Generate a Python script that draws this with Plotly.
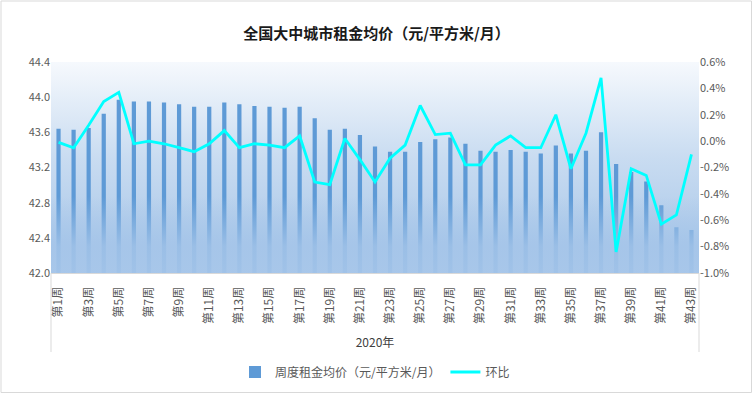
import base64
import plotly.graph_objects as go

# ---------------- data ----------------
WEEK_LABELS = [f"第{i}周" for i in range(1, 44)]
PRICE = [43.64, 43.63, 43.65, 43.81, 43.97, 43.95, 43.95, 43.94, 43.92, 43.89,
         43.89, 43.94, 43.92, 43.90, 43.89, 43.88, 43.89, 43.76, 43.63, 43.64,
         43.57, 43.44, 43.38, 43.38, 43.49, 43.52, 43.54, 43.47, 43.39, 43.38,
         43.40, 43.38, 43.36, 43.45, 43.36, 43.39, 43.60, 43.24, 43.15, 43.04,
         42.77, 42.52, 42.49]
MOM = [-0.01, -0.05, 0.12, 0.30, 0.37, -0.02, 0.00, -0.02, -0.05, -0.08,
       -0.02, 0.08, -0.05, -0.02, -0.03, -0.05, 0.04, -0.31, -0.33, 0.02,
       -0.14, -0.31, -0.13, -0.03, 0.27, 0.05, 0.06, -0.18, -0.18, -0.03,
       0.04, -0.05, -0.05, 0.20, -0.21, 0.06, 0.48, -0.84, -0.21, -0.26,
       -0.63, -0.56, -0.10]
LEFT_TICKS = [42.0, 42.4, 42.8, 43.2, 43.6, 44.0, 44.4]
RIGHT_TICKS = [-1.0, -0.8, -0.6, -0.4, -0.2, 0.0, 0.2, 0.4, 0.6]
YEAR_LABEL = "2020年"
TITLE = "全国大中城市租金均价（元/平方米/月）"
BAR_NAME = "周度租金均价（元/平方米/月）"
LINE_NAME = "环比"

WEEKS = list(range(1, len(WEEK_LABELS) + 1))

# ---------------- layout constants ----------------
W, H = 753, 394
ML, MR, MT, MB = 51, 54, 62, 121
PW, PH = W - ML - MR, H - MT - MB
X_MIN, X_MAX = 0.5, len(WEEKS) + 0.5
Y2_MIN, Y2_MAX = RIGHT_TICKS[0], RIGHT_TICKS[-1]
FADE_TOP = -0.42

FONT = "Noto Sans CJK SC"
GREY = "#595959"

svg = ('<svg xmlns="http://www.w3.org/2000/svg" width="100" height="100" preserveAspectRatio="none">'
       '<defs><linearGradient id="g" x1="0" y1="0" x2="0" y2="1">'
       '<stop offset="0" stop-color="#f6f9fd"/>'
       '<stop offset="0.45" stop-color="#c9dcf1"/>'
       '<stop offset="1" stop-color="#a3c3e7"/>'
       '</linearGradient></defs>'
       '<rect width="100" height="100" fill="url(#g)"/></svg>')
bg_src = "data:image/svg+xml;base64," + base64.b64encode(svg.encode()).decode()

fig = go.Figure()

fig.add_trace(go.Bar(
    x=WEEKS, y=PRICE, name=BAR_NAME, width=0.28,
    marker=dict(color="#5e9ad6", line=dict(width=0)),
    yaxis="y",
))

# bottom fade of bars (decorative), drawn below the line
fig.add_trace(go.Scatter(
    x=[X_MIN, X_MAX, X_MAX, X_MIN, X_MIN],
    y=[Y2_MIN, Y2_MIN, FADE_TOP, FADE_TOP, Y2_MIN],
    mode="none", fill="toself", showlegend=False, hoverinfo="skip",
    fillgradient=dict(type="vertical",
                      colorscale=[[0, "rgba(168,199,234,0.9)"],
                                  [0.35, "rgba(165,197,233,0.85)"],
                                  [1, "rgba(165,197,233,0)"]],
                      start=Y2_MIN, stop=FADE_TOP),
    yaxis="y2",
))

fig.add_trace(go.Scatter(
    x=WEEKS, y=MOM, name=LINE_NAME, mode="lines",
    line=dict(color="#00ffff", width=2.8),
    yaxis="y2",
))

fig.update_layout(
    width=W, height=H,
    margin=dict(l=ML, r=MR, t=MT, b=MB, autoexpand=False),
    paper_bgcolor="white",
    plot_bgcolor="rgba(0,0,0,0)",
    font=dict(family=FONT, color=GREY, size=11),
    title=dict(text=f"<b>{TITLE}</b>", x=0.5, xanchor="center",
               y=1 - 34 / H, yanchor="middle",
               font=dict(family=FONT, size=15, color="#1a1a1a")),
    showlegend=True,
    legend=dict(orientation="h", x=0.5, xanchor="center",
                y=(0 - (372 - (MT + PH))) / PH, yanchor="middle",
                font=dict(family=FONT, size=12, color=GREY),
                itemwidth=30, tracegroupgap=0),
    xaxis=dict(range=[X_MIN, X_MAX], tickmode="array", automargin=False,
               tickvals=WEEKS[::2], ticktext=WEEK_LABELS[::2],
               tickangle=-90, ticks="", showgrid=False, zeroline=False,
               showline=True, linecolor="#d9d9d9", linewidth=1,
               tickfont=dict(size=12, color=GREY), ticklabelstandoff=8,
               title=dict(text=YEAR_LABEL, standoff=15,
                          font=dict(size=12, color="#404040"))),
    yaxis=dict(range=[LEFT_TICKS[0], LEFT_TICKS[-1]], tickmode="array",
               automargin=False,
               tickvals=LEFT_TICKS, ticktext=[f"{v:.1f}" for v in LEFT_TICKS],
               showgrid=False, zeroline=False, showline=False, ticks="",
               tickfont=dict(size=11, color=GREY)),
    yaxis2=dict(range=[Y2_MIN, Y2_MAX], overlaying="y", side="right",
                automargin=False,
                tickmode="array", tickvals=RIGHT_TICKS,
                ticktext=[f"{v:.1f}%" for v in RIGHT_TICKS],
                showgrid=False, zeroline=False, showline=False, ticks="",
                tickfont=dict(size=11, color=GREY)),
    images=[dict(source=bg_src, xref="paper", yref="paper", x=0, y=1,
                 sizex=1, sizey=1, sizing="stretch", xanchor="left",
                 yanchor="top", layer="below")],
)

# group dividers of the category axis and chart border
div_bottom = -(352 - (MT + PH)) / PH
for xp in (0, 1):
    fig.add_shape(type="line", xref="paper", yref="paper", x0=xp, x1=xp,
                  y0=0, y1=div_bottom, line=dict(color="#d9d9d9", width=1))
fig.add_shape(type="rect", xref="paper", yref="paper",
              x0=-(ML - 1) / PW, x1=1 + (MR - 1.5) / PW,
              y0=-(MB - 1.5) / PH, y1=1 + (MT - 1) / PH,
              line=dict(color="#d9d9d9", width=1), fillcolor="rgba(0,0,0,0)")

fig.write_html("out.html", config={"displayModeBar": False},
               post_script="document.body.style.margin='0';document.body.style.padding='0';")
